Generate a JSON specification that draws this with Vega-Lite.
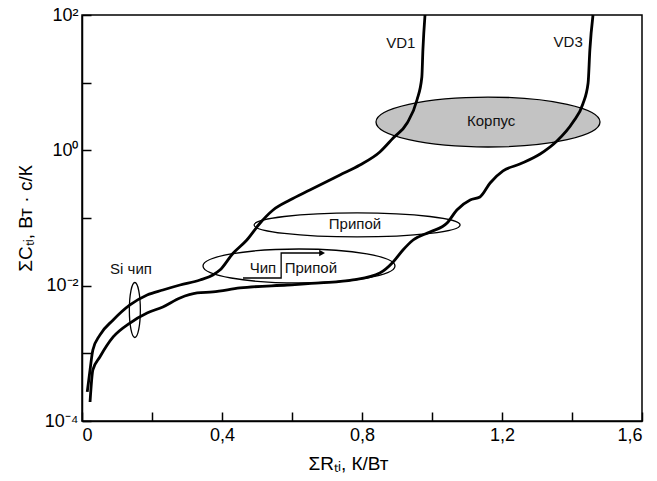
{
  "$schema": "https://vega.github.io/schema/vega-lite/v6.json",
  "autosize": {"type": "none"},
  "padding": {"left": 82, "top": 15, "right": 15, "bottom": 60},
  "width": 560,
  "height": 406,
  "background": "white",
  "config": {
    "view": {"stroke": "black", "strokeWidth": 1.5},
    "font": "Liberation Sans",
    "axis": {
      "grid": false,
      "domainColor": "black",
      "domainWidth": 1.5,
      "tickColor": "black",
      "tickWidth": 1.5,
      "labelFont": "Liberation Sans",
      "labelColor": "black",
      "labelFontSize": 18,
      "titleFont": "Liberation Sans",
      "titleFontWeight": "normal",
      "titleColor": "black",
      "titleFontSize": 19
    }
  },
  "datasets": {
    "curves": [
      {"s": "VD1", "o": 1, "R": 0.015, "C": 0.000269},
      {"s": "VD1", "o": 2, "R": 0.023, "C": 0.000568},
      {"s": "VD1", "o": 3, "R": 0.031, "C": 0.00112},
      {"s": "VD1", "o": 4, "R": 0.051, "C": 0.00186},
      {"s": "VD1", "o": 5, "R": 0.089, "C": 0.00311},
      {"s": "VD1", "o": 6, "R": 0.137, "C": 0.00519},
      {"s": "VD1", "o": 7, "R": 0.186, "C": 0.00728},
      {"s": "VD1", "o": 8, "R": 0.231, "C": 0.00863},
      {"s": "VD1", "o": 9, "R": 0.28, "C": 0.01023},
      {"s": "VD1", "o": 10, "R": 0.337, "C": 0.01213},
      {"s": "VD1", "o": 11, "R": 0.374, "C": 0.01439},
      {"s": "VD1", "o": 12, "R": 0.394, "C": 0.017},
      {"s": "VD1", "o": 13, "R": 0.431, "C": 0.0299},
      {"s": "VD1", "o": 14, "R": 0.471, "C": 0.04732},
      {"s": "VD1", "o": 15, "R": 0.509, "C": 0.08433},
      {"s": "VD1", "o": 16, "R": 0.546, "C": 0.1312},
      {"s": "VD1", "o": 17, "R": 0.594, "C": 0.1845},
      {"s": "VD1", "o": 18, "R": 0.651, "C": 0.2594},
      {"s": "VD1", "o": 19, "R": 0.737, "C": 0.4325},
      {"s": "VD1", "o": 20, "R": 0.794, "C": 0.6067},
      {"s": "VD1", "o": 21, "R": 0.851, "C": 0.9441},
      {"s": "VD1", "o": 22, "R": 0.889, "C": 1.521},
      {"s": "VD1", "o": 23, "R": 0.929, "C": 2.535},
      {"s": "VD1", "o": 24, "R": 0.957, "C": 5.546},
      {"s": "VD1", "o": 25, "R": 0.971, "C": 12.13},
      {"s": "VD1", "o": 26, "R": 0.974, "C": 30.41},
      {"s": "VD1", "o": 27, "R": 0.98, "C": 100},
      {"s": "VD3", "o": 1, "R": 0.023, "C": 0.000191},
      {"s": "VD3", "o": 2, "R": 0.031, "C": 0.000568},
      {"s": "VD3", "o": 3, "R": 0.051, "C": 0.000883},
      {"s": "VD3", "o": 4, "R": 0.089, "C": 0.001746},
      {"s": "VD3", "o": 5, "R": 0.137, "C": 0.002805},
      {"s": "VD3", "o": 6, "R": 0.186, "C": 0.003945},
      {"s": "VD3", "o": 7, "R": 0.231, "C": 0.004842},
      {"s": "VD3", "o": 8, "R": 0.28, "C": 0.006577},
      {"s": "VD3", "o": 9, "R": 0.329, "C": 0.0078},
      {"s": "VD3", "o": 10, "R": 0.374, "C": 0.00807},
      {"s": "VD3", "o": 11, "R": 0.451, "C": 0.00925},
      {"s": "VD3", "o": 12, "R": 0.586, "C": 0.01023},
      {"s": "VD3", "o": 13, "R": 0.68, "C": 0.01096},
      {"s": "VD3", "o": 14, "R": 0.774, "C": 0.01213},
      {"s": "VD3", "o": 15, "R": 0.851, "C": 0.01538},
      {"s": "VD3", "o": 16, "R": 0.889, "C": 0.02239},
      {"s": "VD3", "o": 17, "R": 0.917, "C": 0.03365},
      {"s": "VD3", "o": 18, "R": 0.946, "C": 0.04732},
      {"s": "VD3", "o": 19, "R": 0.994, "C": 0.06209},
      {"s": "VD3", "o": 20, "R": 1.043, "C": 0.08433},
      {"s": "VD3", "o": 21, "R": 1.071, "C": 0.1312},
      {"s": "VD3", "o": 22, "R": 1.109, "C": 0.1845},
      {"s": "VD3", "o": 23, "R": 1.137, "C": 0.2042},
      {"s": "VD3", "o": 24, "R": 1.166, "C": 0.3289},
      {"s": "VD3", "o": 25, "R": 1.203, "C": 0.4955},
      {"s": "VD3", "o": 26, "R": 1.251, "C": 0.6281},
      {"s": "VD3", "o": 27, "R": 1.309, "C": 0.8831},
      {"s": "VD3", "o": 28, "R": 1.357, "C": 1.374},
      {"s": "VD3", "o": 29, "R": 1.403, "C": 2.624},
      {"s": "VD3", "o": 30, "R": 1.431, "C": 4.842},
      {"s": "VD3", "o": 31, "R": 1.446, "C": 9.886},
      {"s": "VD3", "o": 32, "R": 1.451, "C": 30.41},
      {"s": "VD3", "o": 33, "R": 1.46, "C": 100}
    ],
    "ellipses": [
      {"name": "Корпус", "R": 1.16, "C": 2.62},
      {"name": "Припой", "R": 0.786, "C": 0.0789},
      {"name": "Чип Припой", "R": 0.62, "C": 0.01954},
      {"name": "Si чип", "R": 0.151, "C": 0.00437}
    ],
    "arrow": [
      {"o": 1, "R": 0.46, "C": 0.01298},
      {"o": 2, "R": 0.569, "C": 0.01298},
      {"o": 3, "R": 0.569, "C": 0.0304},
      {"o": 4, "R": 0.683, "C": 0.0304}
    ],
    "arrowhead": [
      {"R": 0.686, "C": 0.0304}
    ],
    "labels": [
      {"text": "VD1", "R": 0.911, "C": 38.6},
      {"text": "VD3", "R": 1.389, "C": 39.9},
      {"text": "Корпус", "R": 1.169, "C": 2.72},
      {"text": "Припой", "R": 0.78, "C": 0.0815},
      {"text": "Чип", "R": 0.517, "C": 0.01824},
      {"text": "Припой", "R": 0.654, "C": 0.01824},
      {"text": "Si чип", "R": 0.14, "C": 0.01763}
    ]
  },
  "encoding": {
    "x": {
      "field": "R",
      "type": "quantitative",
      "scale": {"domain": [0, 1.6], "nice": false, "zero": false},
      "axis": {
        "title": "ΣRₜᵢ, К/Вт",
        "values": [0, 0.2, 0.4, 0.6, 0.8, 1.0, 1.2, 1.4, 1.6],
        "labelExpr": "datum.value == 0 ? '0' : (round(datum.value * 10) % 4 == 0 ? replace(format(datum.value, '.1f'), '.', ',') : '')",
        "tickSize": -9,
        "labelPadding": 14,
        "titlePadding": 10,
        "titleX": 266
      }
    },
    "y": {
      "field": "C",
      "type": "quantitative",
      "scale": {"type": "log", "domain": [0.0001, 100], "nice": false},
      "axis": {
        "title": "ΣCₜᵢ, Вт · с/К",
        "values": [0.0001, 0.001, 0.01, 0.1, 1, 10, 100],
        "labelExpr": "round(log(datum.value) / LN10) == -4 ? '10⁻⁴' : (round(log(datum.value) / LN10) == -2 ? '10⁻²' : (round(log(datum.value) / LN10) == 0 ? '10⁰' : (round(log(datum.value) / LN10) == 2 ? '10²' : '')))",
        "tickSize": -9,
        "labelPadding": 13,
        "titlePadding": 9
      }
    }
  },
  "layer": [
    {
      "data": {"name": "ellipses"},
      "transform": [{"filter": "datum.name == 'Корпус'"}],
      "mark": {
        "type": "point",
        "shape": "M1,0C1,0.1232 0.5523,0.223 0,0.223C-0.5523,0.223 -1,0.1232 -1,0C-1,-0.1232 -0.5523,-0.223 0,-0.223C0.5523,-0.223 1,-0.1232 1,0Z",
        "size": 50176,
        "filled": true,
        "fill": "#c3c3c3",
        "stroke": "black",
        "strokeWidth": 1.3,
        "opacity": 1
      }
    },
    {
      "data": {"name": "ellipses"},
      "transform": [{"filter": "datum.name == 'Припой'"}],
      "mark": {
        "type": "point",
        "shape": "M1,0C1,0.0643 0.5523,0.1165 0,0.1165C-0.5523,0.1165 -1,0.0643 -1,0C-1,-0.0643 -0.5523,-0.1165 0,-0.1165C0.5523,-0.1165 1,-0.0643 1,0Z",
        "size": 42436,
        "filled": false,
        "stroke": "black",
        "strokeWidth": 1.3,
        "opacity": 1
      }
    },
    {
      "data": {"name": "ellipses"},
      "transform": [{"filter": "datum.name == 'Чип Припой'"}],
      "mark": {
        "type": "point",
        "shape": "M1,0C1,0.0978 0.5523,0.177 0,0.177C-0.5523,0.177 -1,0.0978 -1,0C-1,-0.0978 -0.5523,-0.177 0,-0.177C0.5523,-0.177 1,-0.0978 1,0Z",
        "size": 36864,
        "filled": false,
        "stroke": "black",
        "strokeWidth": 1.3,
        "opacity": 1
      }
    },
    {
      "data": {"name": "ellipses"},
      "transform": [{"filter": "datum.name == 'Si чип'"}],
      "mark": {
        "type": "point",
        "shape": "M0.2,0C0.2,0.5523 0.1105,1 0,1C-0.1105,1 -0.2,0.5523 -0.2,0C-0.2,-0.5523 -0.1105,-1 0,-1C0.1105,-1 0.2,-0.5523 0.2,0Z",
        "size": 3025,
        "filled": false,
        "stroke": "black",
        "strokeWidth": 1.3,
        "opacity": 1
      }
    },
    {
      "data": {"name": "curves"},
      "mark": {"type": "line", "color": "black", "strokeWidth": 2.8, "interpolate": "monotone"},
      "encoding": {
        "detail": {"field": "s", "type": "nominal"},
        "order": {"field": "o", "type": "quantitative"}
      }
    },
    {
      "data": {"name": "arrow"},
      "mark": {"type": "line", "color": "black", "strokeWidth": 1.3},
      "encoding": {
        "order": {"field": "o", "type": "quantitative"}
      }
    },
    {
      "data": {"name": "arrowhead"},
      "mark": {"type": "point", "shape": "triangle-right", "size": 45, "filled": true, "color": "black", "opacity": 1}
    },
    {
      "data": {"name": "labels"},
      "mark": {"type": "text", "font": "Liberation Sans", "fontSize": 15, "color": "#111", "align": "center", "baseline": "middle"},
      "encoding": {
        "text": {"field": "text", "type": "nominal"}
      }
    }
  ]
}
